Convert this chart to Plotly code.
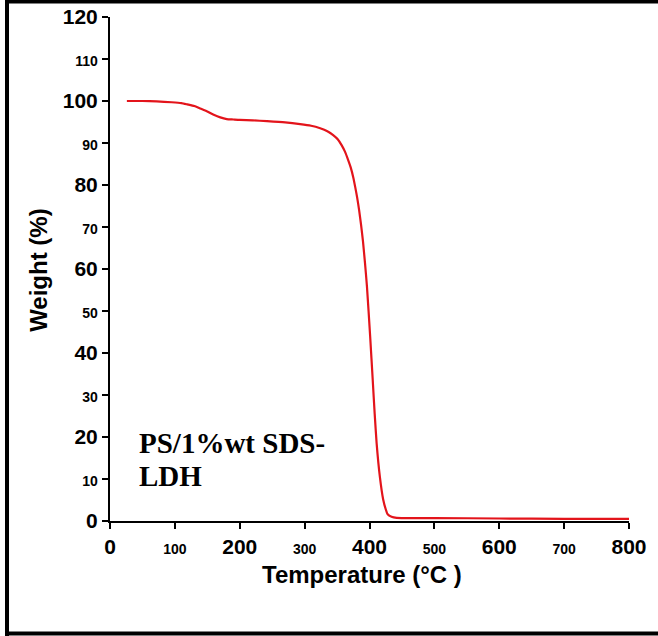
import plotly.graph_objects as go

# Data
temperature = [26, 50, 72, 95, 110, 119, 130, 139, 150, 159, 170, 180, 190, 200, 220, 242, 270, 293,
               310, 324, 335, 344, 351, 357, 362, 367, 371, 375, 378, 381, 384, 387, 390, 393, 396,
               401, 405, 408, 411, 416, 421, 425, 428, 434, 442, 470, 500, 600, 700, 800]
weight = [100.0, 100.0, 99.9, 99.7, 99.5, 99.2, 98.8, 98.2, 97.5, 96.8, 96.1, 95.7, 95.6, 95.5, 95.4,
          95.2, 94.9, 94.5, 94.1, 93.5, 92.8, 91.9, 90.9, 89.5, 88.0, 86.0, 84.2, 81.8, 79.5,
          77.0, 74.0, 70.5, 66.5, 61.5, 56.0, 44.0, 33.5, 25.5, 18.5, 10.5, 5.2, 2.8, 1.6, 1.0,
          0.75, 0.7, 0.7, 0.6, 0.5, 0.5]

x_major = [0, 200, 400, 600, 800]
x_minor = [100, 300, 500, 700]
y_major = [0, 20, 40, 60, 80, 100, 120]
y_minor = [10, 30, 50, 70, 90, 110]

label_lines = ["PS/1%wt SDS-", "LDH"]
x_title = "Temperature (°C )"
y_title = "Weight (%)"

def tick_setup(major, minor):
    vals = sorted(major + minor)
    text = [str(v) if v in major else f"<span style='font-size:14px'>{v}</span>" for v in vals]
    return vals, text

xv, xt = tick_setup(x_major, x_minor)
yv, yt = tick_setup(y_major, y_minor)

fig = go.Figure()
fig.add_trace(go.Scatter(x=temperature, y=weight, mode="lines",
                         line=dict(color="#e3141b", width=2.2, shape="spline", smoothing=0.5),
                         showlegend=False, hoverinfo="skip"))

axis_common = dict(showline=True, linecolor="black", linewidth=2, ticks="outside",
                   ticklen=6, tickwidth=2, tickcolor="black", showgrid=False, zeroline=False,
                   automargin=False,
                   tickfont=dict(family="Liberation Sans, Arial", size=21, color="black", weight="bold"))

fig.update_xaxes(range=[0, 800], tickmode="array", tickvals=xv, ticktext=xt, **axis_common)
fig.update_yaxes(range=[0, 120], tickmode="array", tickvals=yv, ticktext=yt, **axis_common)

ann_font = dict(family="Liberation Serif, Times New Roman", size=29, color="black", weight="bold")
fig.add_annotation(x=41, y=18.6, xref="x", yref="y", text=label_lines[0], showarrow=False,
                   xanchor="left", yanchor="middle", font=ann_font)
fig.add_annotation(x=41, y=10.8, xref="x", yref="y", text=label_lines[1], showarrow=False,
                   xanchor="left", yanchor="middle", font=ann_font)

title_font = dict(family="Liberation Sans, Arial", size=24, color="black", weight="bold")
fig.add_annotation(x=0.486, y=-0.107, xref="paper", yref="paper", text=x_title, showarrow=False,
                   xanchor="center", yanchor="middle", font=title_font)
fig.add_annotation(x=-0.139, y=0.498, xref="paper", yref="paper", text=y_title, showarrow=False,
                   textangle=-90, xanchor="center", yanchor="middle", font=title_font)

# outer black frame (left, top, bottom)
def px2paper_x(px):
    return (px - 110) / 519.0

def px2paper_y(py):
    return (521 - py) / 504.0

frame = dict(type="line", xref="paper", yref="paper", line=dict(color="black", width=4), layer="above")
fig.add_shape(x0=px2paper_x(7), x1=px2paper_x(7), y0=px2paper_y(0), y1=px2paper_y(636), **frame)
fig.add_shape(x0=px2paper_x(5), x1=px2paper_x(658), y0=px2paper_y(1.5), y1=px2paper_y(1.5), **frame)
fig.add_shape(x0=px2paper_x(5), x1=px2paper_x(658), y0=px2paper_y(633.5), y1=px2paper_y(633.5), **frame)

fig.update_layout(width=658, height=636, margin=dict(l=110, r=29, t=17, b=115),
                  paper_bgcolor="white", plot_bgcolor="white")

fig.write_html("out.html", config={"displayModeBar": False},
               post_script="document.body.style.margin='0';document.body.style.overflow='hidden';")
